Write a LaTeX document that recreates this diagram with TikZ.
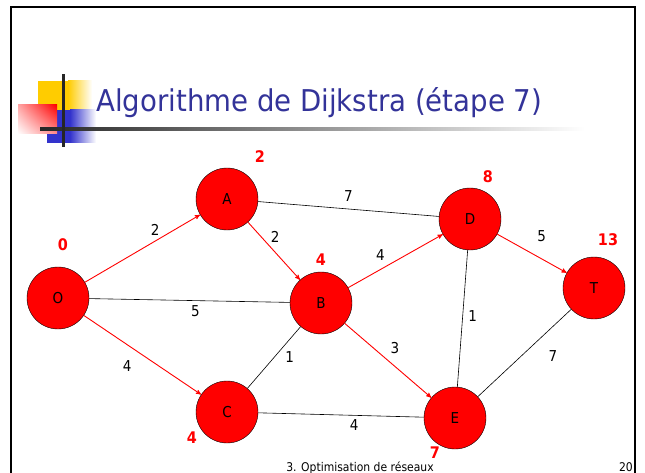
\documentclass[tikz,border=0pt]{standalone}
\usepackage{fontspec}
\setmainfont{DejaVu Sans}[FakeStretch=0.9]
\newfontfamily\titlefont{DejaVu Sans}[FakeStretch=0.92]
\usetikzlibrary{arrows, shadings}

\definecolor{titleblue}{RGB}{51,51,153}
\definecolor{logoyellow}{RGB}{255,204,0}
\definecolor{logoblue}{RGB}{51,51,204}

\begin{document}
\begin{tikzpicture}[x=1pt,y=-1pt,>=stealth',
    base node/.style={circle,draw,fill=red,minimum size=62pt,inner sep=0pt,font=\fontsize{15}{18}\selectfont},
    dist node/.style={text=red,inner sep=0pt,font=\fontsize{16}{19}\selectfont\bfseries},
    tree edge/.style={->,draw=red,line width=0.9pt},
    plain edge/.style={draw=black,line width=0.6pt},
    weight/.style={text=black,inner sep=3pt,font=\fontsize{15}{18}\selectfont}]

\useasboundingbox (0,0) rectangle (645,473);
% slide frame
\draw[line width=2pt] (11,473) -- (11,7) -- (635,7) -- (635,473);

% logo and title rule
\fill[logoyellow] (38,81) rectangle (68,110);
\shade[left color=logoyellow,right color=white] (68,81) rectangle (92,110);
\fill[logoblue] (47,110) rectangle (70,143);
\shade[left color=logoblue,right color=white] (70,110) rectangle (96,143);
\shade[upper right=red,upper left=red!35,lower right=red!45,lower left=white] (18,105) rectangle (57,134);
\shade[left color=black!85,middle color=black!60,right color=white] (40,128) rectangle (585,130.5);
\fill[black!85] (61.5,74) rectangle (64.5,147);

\node[anchor=base west,text=titleblue,inner sep=0pt,font=\titlefont\fontsize{30}{36}\selectfont] (title) at (96,112) {Algorithme de Dijkstra (étape 7)};

\node[base node]   (O)   at (58,298)    {O};
\node[base node]   (A)   at (227,199)   {A};
\node[base node]   (B)   at (321,303)   {B};
\node[base node]   (C)   at (227,412)   {C};
\node[base node]   (D)   at (470,219)   {D};
\node[base node]   (E)   at (455,418)   {E};
\node[base node]   (T)   at (594,288)   {T};

\node[dist node]   (dO)  at (63,245)    {0};
\node[dist node]   (dA)  at (260,157)   {2};
\node[dist node]   (dB)  at (321,260)   {4};
\node[dist node]   (dC)  at (192,438)   {4};
\node[dist node]   (dD)  at (488,177)   {8};
\node[dist node]   (dE)  at (435,453)   {7};
\node[dist node]   (dT)  at (608,240)   {13};

\path
(O) edge[tree edge]  node[weight,pos=0.61,above=2pt]   {2} (A)
(A) edge[tree edge]  node[weight,pos=0.26,right=6pt]   {2} (B)
(O) edge[plain edge] node[weight,pos=0.53,below=2pt]   {5} (B)
(O) edge[tree edge]  node[weight,pos=0.37,below=12pt]  {4} (C)
(C) edge[plain edge] node[weight,pos=0.51,right=7.5pt] {1} (B)
(A) edge[plain edge] node[weight,pos=0.50,above=4.5pt] {7} (D)
(B) edge[tree edge]  node[weight,pos=0.34,above=5.5pt] {4} (D)
(D) edge[tree edge]  node[weight,pos=0.64,above=13.5pt]{5} (T)
(D) edge[plain edge] node[weight,pos=0.48,right=2.3pt] {1} (E)
(B) edge[tree edge]  node[weight,pos=0.58,above=9pt]   {3} (E)
(C) edge[plain edge] node[weight,pos=0.58,below=1.3pt] {4} (E)
(E) edge[plain edge] node[weight,pos=0.47,right=23.5pt]{7} (T)
;

\node[anchor=base,inner sep=0pt,font=\fontsize{12}{14}\selectfont] (footer) at (360,471) {3. Optimisation de réseaux};
\node[anchor=base east,inner sep=0pt,font=\fontsize{12}{14}\selectfont] (page) at (633,471) {20};
\end{tikzpicture}
\end{document}
